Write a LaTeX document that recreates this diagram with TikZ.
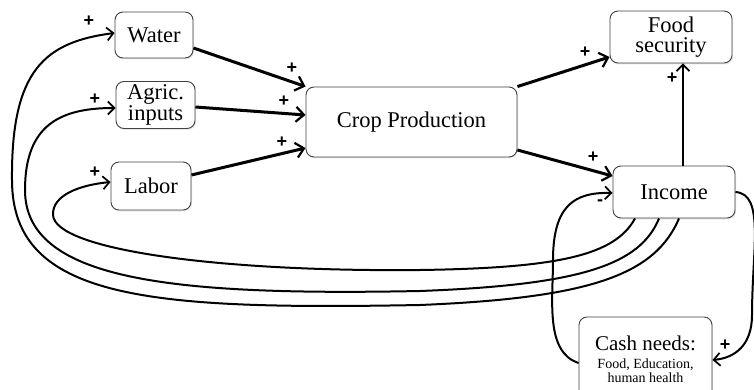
\documentclass[tikz,border=0pt]{standalone}
\usepackage{fontspec}
\setmainfont{Liberation Serif}
\newfontfamily\plusfont{Liberation Sans}
\usetikzlibrary{arrows.meta,shadows}
\begin{document}
\begin{tikzpicture}[x=1pt,y=-1pt,
  box/.style={draw=black!75, line width=0.9pt, rounded corners=8pt, fill=white,
    drop shadow={opacity=0.18, shadow xshift=1pt, shadow yshift=-1.5pt},
    inner sep=0pt, align=center, font=\fontsize{22.5}{20.5}\selectfont},
  mainarrow/.style={line width=3pt, -{Straight Barb[length=8pt,width=15pt,line width=2.2pt]}},
  thinarrow/.style={line width=2pt, -{Straight Barb[length=6.5pt,width=13pt,line width=1.7pt]}},
  sign/.style={font=\plusfont\bfseries\fontsize{18}{18}\selectfont, inner sep=0pt}]
\useasboundingbox (0,0) rectangle (754,390);

% boxes
\node[box, minimum width=78pt, minimum height=46pt] (water) at (154,35) {Water};
\node[box, minimum width=79pt, minimum height=47pt] (agric) at (155.5,105) {Agric.\\inputs};
\node[box, minimum width=80pt, minimum height=48pt] (labor) at (151,186) {Labor};
\node[box, minimum width=211pt, minimum height=70pt] (crop) at (411.5,122) {Crop Production};
\node[box, minimum width=122pt, minimum height=52pt] (food) at (671,37) {Food\\security};
\node[box, minimum width=122pt, minimum height=52pt] (income) at (674,192) {Income};
\node[box, minimum width=133pt, minimum height=84pt, font=\fontsize{14}{14}\selectfont] (cash) at (645.5,359)
  {{\fontsize{21}{21}\selectfont Cash needs:}\\[4pt]
   Food, Education,\\ human health};

% main arrows
\draw[mainarrow] ([yshift=-13pt]water.east) -- (crop.north west);
\draw[mainarrow] ([yshift=-2pt]agric.east) -- ([yshift=7pt]crop.west);
\draw[mainarrow] ([yshift=11pt]labor.east) -- ([yshift=-26pt]crop.west);
\draw[mainarrow] (crop.north east) -- ([yshift=-20pt]food.west);
\draw[mainarrow] ([yshift=-28pt]crop.east) -- ([yshift=16pt]income.west);
\draw[thinarrow] ([xshift=9pt]income.north) -- ([xshift=9pt]income.north |- food.south);

% feedback loops
\draw[thinarrow] ([xshift=5pt]income.south) .. controls (655,275) and (590,298) .. (420,305)
  .. controls (150,310) and (12,300) .. (12,180)
  .. controls (11,70) and (45,42) .. ([yshift=2pt]water.west);
\draw[thinarrow] ([xshift=-15pt]income.south) .. controls (640,265) and (580,285) .. (420,291)
  .. controls (170,296) and (25,280) .. (25,190)
  .. controls (25,125) and (60,108) .. ([yshift=-3pt]agric.west);
\draw[thinarrow] ([xshift=-39pt]income.south) .. controls (615,255) and (560,268) .. (420,270)
  .. controls (220,272) and (55,250) .. (53,215)
  .. controls (52,195) and (80,185) .. ([yshift=4pt]labor.west);
\draw[thinarrow] ([yshift=-4pt]cash.west) .. controls (545,352) and (553,300) .. (553,260)
  .. controls (553,205) and (575,192) .. ([yshift=-1pt]income.west);
\draw[thinarrow] (income.east) .. controls (765,194) and (752,250) .. (752,315)
  .. controls (752,345) and (735,358) .. ([yshift=-1pt]cash.east);

% signs
\node[sign] (s1) at (89,21) {+};
\node[sign] (s2) at (95,99) {+};
\node[sign] (s3) at (95,172) {+};
\node[sign] (s4) at (292,68) {+};
\node[sign] (s5) at (284,101) {+};
\node[sign] (s6) at (282,142) {+};
\node[sign] (s7) at (585,52) {+};
\node[sign] (s8) at (593,157) {+};
\node[sign] (s9) at (672,78) {+};
\node[sign] (s10) at (600,203) {-};
\node[sign] (s11) at (725,345) {+};
\end{tikzpicture}
\end{document}
